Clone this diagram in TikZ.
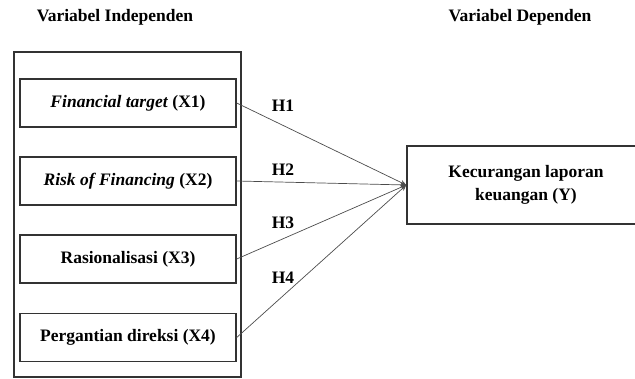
\documentclass[tikz,border=0pt]{standalone}
\usepackage{fontspec}
\setmainfont{Liberation Serif}
\usetikzlibrary{arrows.meta}
\begin{document}
\begin{tikzpicture}[x=1pt,y=-1pt,
  varbox/.style={draw=black!80,line width=1.4pt,minimum width=216pt,minimum height=48pt,inner sep=0pt,font=\fontsize{17.5}{23}\selectfont\bfseries,align=center},
  hlabel/.style={font=\fontsize{17.5}{21}\selectfont\bfseries},
  title/.style={font=\fontsize{17.5}{21}\selectfont\bfseries},
  conn/.style={draw=black!70,line width=0.7pt,-{Stealth[length=6pt,width=5pt]}}]
\useasboundingbox (0,0) rectangle (635,378);
\node[title] (ti) at (115,17) {Variabel Independen};
\node[title] (td) at (520,17) {Variabel Dependen};
\draw[draw=black!80,line width=1.4pt] (14,52) rectangle (241,377);
\node[varbox] (x1) at (128,103) {\textit{Financial target} (X1)};
\node[varbox] (x2) at (128,181) {\textit{Risk of Financing} (X2)};
\node[varbox] (x3) at (128,259) {Rasionalisasi (X3)};
\node[varbox] (x4) at (128,337.5) {Pergantian direksi (X4)};
\node[varbox,minimum width=238pt,minimum height=78pt] (y) at (526,185) {Kecurangan laporan\\keuangan (Y)};
\draw[conn] (x1.east) -- (y.west);
\draw[conn] (x2.east) -- (y.west);
\draw[conn] (x3.east) -- (y.west);
\draw[conn] (x4.east) -- (y.west);
\node[hlabel] (h1) at (283,106) {H1};
\node[hlabel] (h2) at (283,170) {H2};
\node[hlabel] (h3) at (283,223) {H3};
\node[hlabel] (h4) at (283,278) {H4};
\end{tikzpicture}
\end{document}
